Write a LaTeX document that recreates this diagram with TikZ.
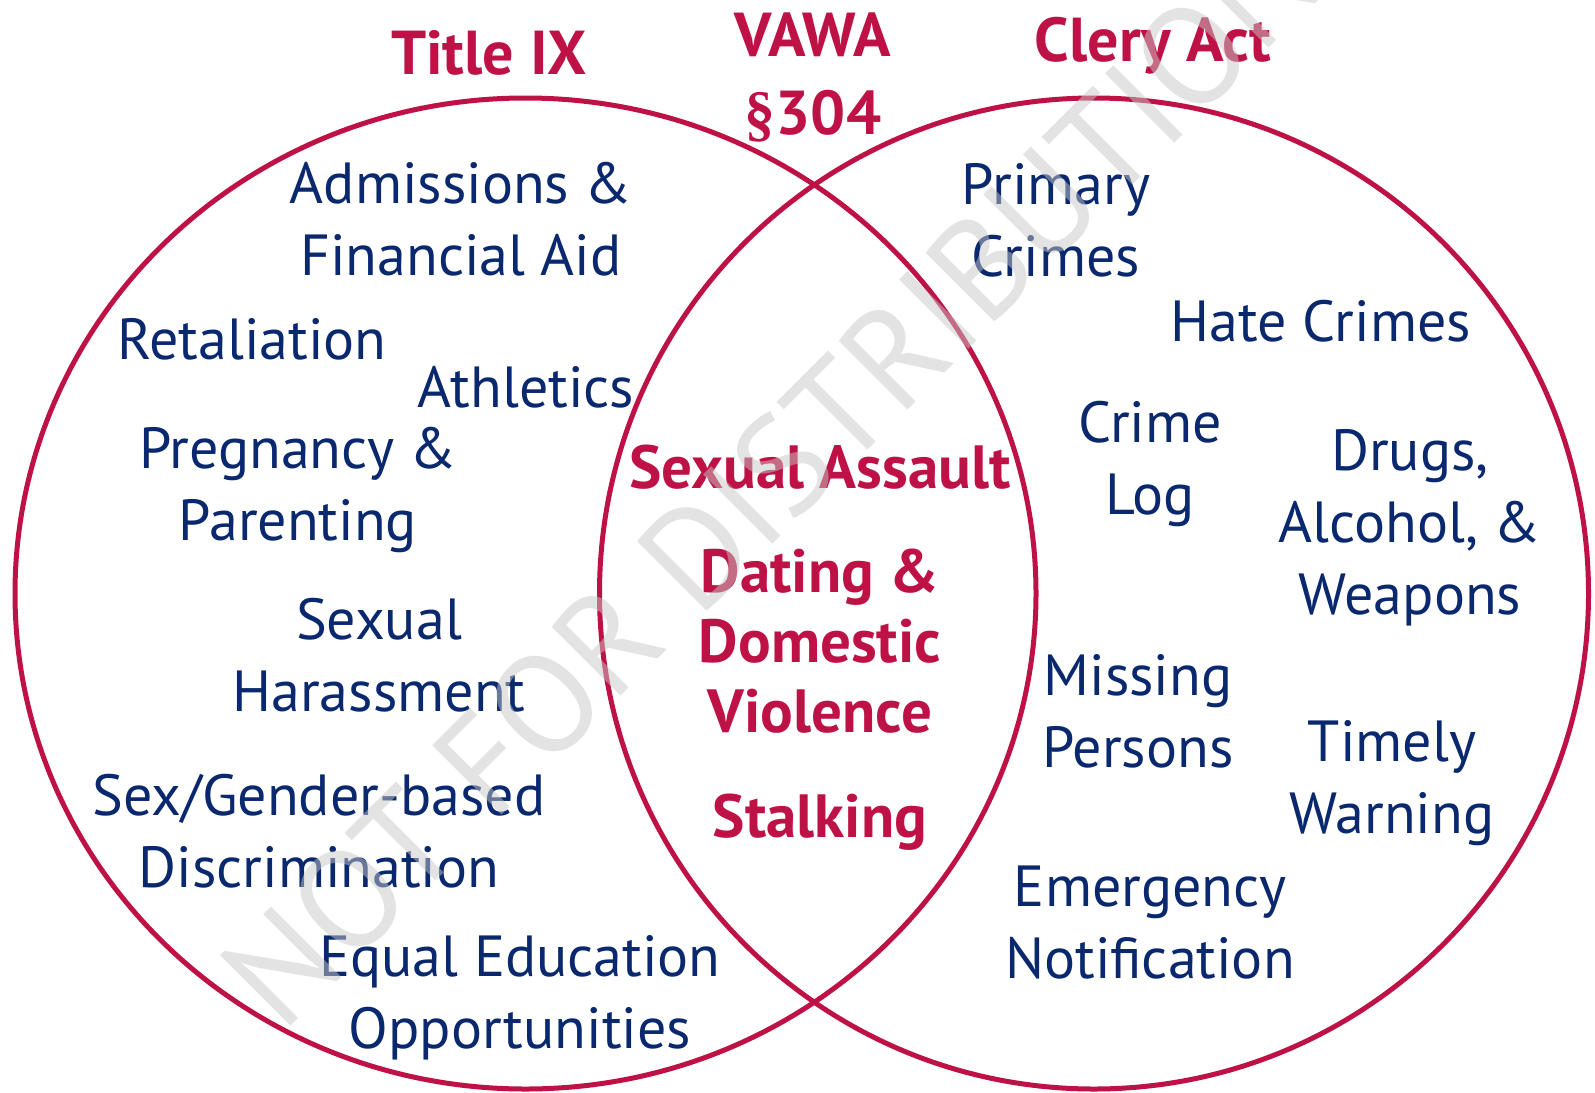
\documentclass[tikz,border=0pt]{standalone}
\usepackage{fontspec}
\setmainfont{PT Sans}
\newfontfamily\secfont{Liberation Serif}
\usepackage{xcolor}
\definecolor{vred}{RGB}{190,18,70}
\definecolor{vblue}{RGB}{10,40,110}

\begin{document}
\begin{tikzpicture}
  [x=0.5pt,y=-0.5pt,
   venn/.style={draw=vred,line width=2.5pt},
   item/.style={text=vblue,align=center,inner sep=0pt,font=\fontsize{29}{36}\selectfont},
   law/.style={text=vred,align=center,inner sep=0pt,font=\fontsize{31}{39}\selectfont\bfseries},
   crime/.style={text=vred,align=center,inner sep=0pt,font=\fontsize{30.5}{35}\selectfont\bfseries},
   watermark/.style={text=black!22,text opacity=0.5,inner sep=0pt,font=\fontsize{70}{70}\selectfont}]
  \useasboundingbox (0,0) rectangle (1595,1092);

  % the two sets
  \draw[venn] (525.5,593.5) ellipse [x radius=510.5, y radius=495.5];
  \draw[venn] (1094,593.5) ellipse [x radius=494.5, y radius=495.5];

  \node[law] (title) at (489,53) {Title IX};
  \node[law] (vawa) at (813,78) {VAWA\\{\secfont\bfseries\S}304};
  \node[law] (clery) at (1153,46) {Clery Act};

  % Title IX only
  \node[item] (admit) at (461,219) {Admissions \&\\Financial Aid};
  \node[item] (retal) at (252,339) {Retaliation};
  \node[item] (athl) at (526,387) {Athletics};
  \node[item] (preg) at (298,490) {Pregnancy \&\\Parenting};
  \node[item] (harass) at (379,655) {Sexual\\Harassment};
  \node[item] (discr) at (319,831) {Sex/Gender-based\\Discrimination};
  \node[item] (equal) at (520,998) {Equal Education\\Opportunities};

  % shared
  \node[crime] (assault) at (820,467) {Sexual Assault};
  \node[crime] (dating) at (820,641) {Dating \&\\Domestic\\Violence};
  \node[crime] (stalk) at (820,822) {Stalking};

  % Clery Act only
  \node[item] (primary) at (1056,220) {Primary\\Crimes};
  \node[item] (hate) at (1321,321) {Hate Crimes};
  \node[item] (log) at (1150,464) {Crime\\Log};
  \node[item] (drugs) at (1410,528) {Drugs,\\Alcohol, \&\\Weapons};
  \node[item] (missing) at (1138,711) {Missing\\Persons};
  \node[item] (timely) at (1392,783) {Timely\\Warning};
  \node[item] (emerg) at (1150,923) {Emergency\\Notification};

  \node[watermark,rotate=45,anchor=west] (wm) at (248,1000) {NOT FOR DISTRIBUTION};
\end{tikzpicture}
\end{document}
